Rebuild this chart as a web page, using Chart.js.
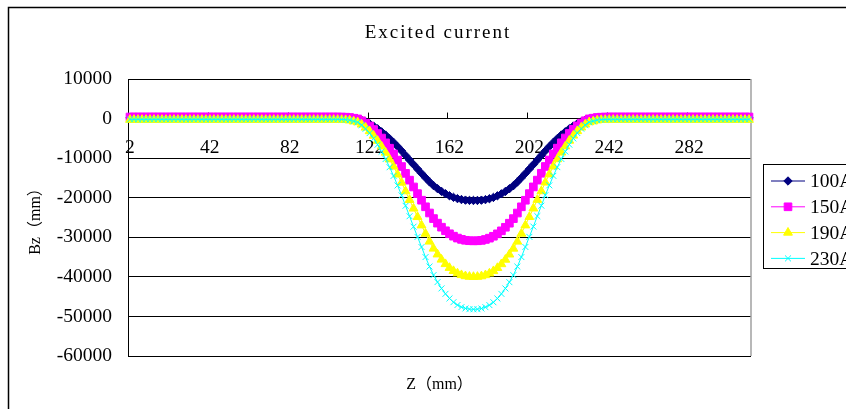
<!DOCTYPE html>
<html>
<head>
<meta charset="utf-8">
<script src="https://cdn.jsdelivr.net/npm/chart.js"></script>
<style>
  html, body { margin: 0; padding: 0; background: #fff; overflow: hidden; }
  #wrap { width: 874px; height: 409px; }
</style>
</head>
<body>
<div id="wrap"><canvas id="chart" width="874" height="409"></canvas></div>
<script>
// z positions (mm), one point every 2 mm
const zLabels = [
  2, 4, 6, 8, 10, 12, 14, 16, 18, 20, 22, 24, 26, 28, 30, 32, 34, 36, 38, 40,
  42, 44, 46, 48, 50, 52, 54, 56, 58, 60, 62, 64, 66, 68, 70, 72, 74, 76, 78, 80,
  82, 84, 86, 88, 90, 92, 94, 96, 98, 100, 102, 104, 106, 108, 110, 112, 114, 116, 118, 120,
  122, 124, 126, 128, 130, 132, 134, 136, 138, 140, 142, 144, 146, 148, 150, 152, 154, 156, 158, 160,
  162, 164, 166, 168, 170, 172, 174, 176, 178, 180, 182, 184, 186, 188, 190, 192, 194, 196, 198, 200,
  202, 204, 206, 208, 210, 212, 214, 216, 218, 220, 222, 224, 226, 228, 230, 232, 234, 236, 238, 240,
  242, 244, 246, 248, 250, 252, 254, 256, 258, 260, 262, 264, 266, 268, 270, 272, 274, 276, 278, 280,
  282, 284, 286, 288, 290, 292, 294, 296, 298, 300, 302, 304, 306, 308, 310, 312
];

const bz100 = [
  200, 200, 200, 200, 200, 200, 200, 200, 200, 200, 200, 200, 200, 200, 200, 200, 200, 200, 200, 200,
  200, 200, 200, 200, 200, 200, 200, 200, 200, 200, 200, 200, 200, 200, 200, 200, 200, 200, 200, 200,
  200, 200, 200, 200, 200, 200, 200, 200, 200, 200, 200, 200, 200, 190, 170, 120, -10, -120, -430, -830,
  -1310, -1910, -2590, -3350, -4170, -5070, -6030, -7070, -8160, -9310, -10460, -11610, -12740, -13850, -14950, -16000, -16940, -17710, -18400, -19000,
  -19500, -19910, -20230, -20460, -20610, -20680, -20700, -20690, -20620, -20480, -20250, -19930, -19520, -19020, -18420, -17730, -16960, -16020, -14970, -13860,
  -12750, -11620, -10470, -9320, -8170, -7070, -6030, -5060, -4160, -3340, -2580, -1900, -1300, -820, -420, -110, 0, 120, 170, 190,
  200, 200, 200, 200, 200, 200, 200, 200, 200, 200, 200, 200, 200, 200, 200, 200, 200, 200, 200, 200,
  200, 200, 200, 200, 200, 200, 200, 200, 200, 200, 200, 200, 200, 200, 200, 200
];

const bz150 = [
  400, 400, 400, 400, 400, 400, 400, 400, 400, 400, 400, 400, 400, 400, 400, 400, 400, 400, 400, 400,
  400, 400, 400, 400, 400, 400, 400, 400, 400, 400, 400, 400, 400, 400, 400, 400, 400, 400, 400, 400,
  400, 400, 400, 400, 400, 400, 400, 400, 400, 400, 400, 400, 400, 380, 350, 280, 90, -90, -550, -1150,
  -1870, -2760, -3780, -4920, -6140, -7490, -8930, -10490, -12120, -13840, -15560, -17280, -18970, -20630, -22290, -23860, -25270, -26420, -27450, -28350,
  -29110, -29720, -30200, -30530, -30760, -30870, -30900, -30880, -30780, -30550, -30220, -29740, -29130, -28370, -27470, -26440, -25280, -23870, -22300, -20640,
  -18970, -17270, -15550, -13820, -12100, -10470, -8910, -7470, -6120, -4900, -3760, -2740, -1850, -1130, -540, -80, 100, 280, 350, 380,
  400, 400, 400, 400, 400, 400, 400, 400, 400, 400, 400, 400, 400, 400, 400, 400, 400, 400, 400, 400,
  400, 400, 400, 400, 400, 400, 400, 400, 400, 400, 400, 400, 400, 400, 400, 400
];

const bz190 = [
  -300, -300, -300, -300, -300, -300, -300, -300, -300, -300, -300, -300, -300, -300, -300, -300, -300, -300, -300, -300,
  -300, -300, -300, -300, -300, -300, -300, -300, -300, -300, -300, -300, -300, -300, -300, -300, -300, -300, -300, -300,
  -300, -300, -300, -300, -300, -300, -300, -300, -300, -300, -300, -300, -300, -320, -360, -460, -700, -920, -1500, -2270,
  -3170, -4310, -5600, -7050, -8600, -10300, -12130, -14120, -16180, -18360, -20550, -22730, -24870, -26980, -29080, -31070, -32850, -34320, -35630, -36760,
  -37720, -38510, -39110, -39540, -39820, -39960, -40000, -39970, -39840, -39560, -39130, -38530, -37740, -36780, -35650, -34340, -32860, -31080, -29080, -26980,
  -24860, -22710, -20530, -18340, -16150, -14090, -12100, -10270, -8570, -7020, -5570, -4290, -3150, -2250, -1490, -910, -690, -450, -350, -320,
  -300, -300, -300, -300, -300, -300, -300, -300, -300, -300, -300, -300, -300, -300, -300, -300, -300, -300, -300, -300,
  -300, -300, -300, -300, -300, -300, -300, -300, -300, -300, -300, -300, -300, -300, -300, -300
];

const bz230 = [
  -200, -200, -200, -200, -200, -200, -200, -200, -200, -200, -200, -200, -200, -200, -200, -200, -200, -200, -200, -200,
  -200, -200, -200, -200, -200, -200, -200, -200, -200, -200, -200, -200, -200, -200, -200, -200, -200, -200, -200, -200,
  -200, -200, -200, -200, -200, -200, -200, -200, -200, -200, -200, -200, -200, -220, -270, -390, -680, -940, -1650, -2580,
  -3680, -5050, -6610, -8360, -10230, -12300, -14500, -16900, -19400, -22040, -24680, -27320, -29910, -32460, -35000, -37400, -39560, -41330, -42920, -44290,
  -45450, -46400, -47120, -47640, -47980, -48160, -48200, -48170, -48000, -47660, -47140, -46420, -45470, -44300, -42930, -41340, -39570, -37400, -35000, -32450,
  -29890, -27290, -24650, -22010, -19370, -16870, -14470, -12270, -10200, -8330, -6580, -5020, -3650, -2560, -1630, -930, -670, -380, -260, -220,
  -200, -200, -200, -200, -200, -200, -200, -200, -200, -200, -200, -200, -200, -200, -200, -200, -200, -200, -200, -200,
  -200, -200, -200, -200, -200, -200, -200, -200, -200, -200, -200, -200, -200, -200, -200, -200
];

const yTicks = [10000, 0, -10000, -20000, -30000, -40000, -50000, -60000];

const FONT = "'Liberation Serif', 'Noto Sans CJK SC', serif";
Chart.defaults.font.family = FONT;
Chart.defaults.font.size = 19.5;
Chart.defaults.color = '#000';

// white page, outer chart frame and the chart title
const frame = {
  id: 'frame',
  beforeDraw(chart) {
    const ctx = chart.ctx;
    ctx.save();
    ctx.fillStyle = '#fff';
    ctx.fillRect(0, 0, chart.width, chart.height);
    ctx.strokeStyle = '#000';
    ctx.lineWidth = 1.5;
    ctx.strokeRect(8.5, 7.5, 1000, 1000);
    ctx.fillStyle = '#000';
    ctx.font = '19px ' + FONT;
    ctx.textAlign = 'center';
    ctx.textBaseline = 'middle';
    if ('letterSpacing' in ctx) ctx.letterSpacing = '2px';
    ctx.fillText('Excited current', 438, 33);
    ctx.restore();
  }
};

// tick marks pointing up from the zero line, plus grey right edge
const axisBits = {
  id: 'axisBits',
  beforeDatasetsDraw(chart) {
    const ctx = chart.ctx;
    const x = chart.scales.x;
    const y = chart.scales.y;
    const y0 = y.getPixelForValue(0);
    const half = (x.getPixelForValue(1) - x.getPixelForValue(0)) / 2;
    ctx.save();
    ctx.strokeStyle = '#000';
    ctx.lineWidth = 1;
    for (let i = 0; i < zLabels.length; i += 20) {
      const px = Math.round(x.getPixelForValue(i) - half) + 0.5;
      ctx.beginPath();
      ctx.moveTo(px, y0);
      ctx.lineTo(px, y0 - 6);
      ctx.stroke();
    }
    ctx.strokeStyle = '#a0a0a0';
    ctx.lineWidth = 1.5;
    const ca = chart.chartArea;
    ctx.beginPath();
    ctx.moveTo(ca.right, ca.top);
    ctx.lineTo(ca.right, ca.bottom);
    ctx.stroke();
    ctx.restore();
  }
};

// boxed legend on the right, like the spreadsheet one
const legendBox = {
  id: 'legendBox',
  afterDraw(chart) {
    const ctx = chart.ctx;
    ctx.save();
    ctx.fillStyle = '#fff';
    ctx.fillRect(763.5, 164.5, 200, 104);
    ctx.strokeStyle = '#000';
    ctx.lineWidth = 1;
    ctx.strokeRect(763.5, 164.5, 200, 104);
    chart.data.datasets.forEach((ds, i) => {
      const yy = 181 + i * 25.8;
      ctx.strokeStyle = ds.borderColor;
      ctx.lineWidth = 1;
      ctx.beginPath();
      ctx.moveTo(771, yy);
      ctx.lineTo(805, yy);
      ctx.stroke();
      if (Chart.helpers && Chart.helpers.drawPoint) {
        ctx.fillStyle = ds.pointBackgroundColor;
        ctx.strokeStyle = ds.pointBorderColor;
        ctx.lineWidth = 1;
        Chart.helpers.drawPoint(ctx, {
          pointStyle: ds.pointStyle, radius: ds.pointRadius, rotation: 0, borderWidth: 1
        }, 788, yy);
      }
      ctx.fillStyle = '#000';
      ctx.font = '19.5px ' + FONT;
      ctx.textBaseline = 'middle';
      ctx.textAlign = 'left';
      ctx.fillText(ds.label, 810, yy + 1);
    });
    ctx.restore();
  }
};

function series(label, data, color, style, r, order) {
  return {
    label: label,
    data: data,
    borderColor: color,
    backgroundColor: color,
    borderWidth: 1,
    pointStyle: style,
    pointRadius: r,
    pointBackgroundColor: color,
    pointBorderColor: color,
    pointBorderWidth: 1,
    tension: 0,
    order: order
  };
}

new Chart(document.getElementById('chart').getContext('2d'), {
  type: 'line',
  data: {
    labels: zLabels,
    datasets: [
      series('100A', bz100, '#000080', 'rectRot', 4.2, 4),
      series('150A', bz150, '#ff00ff', 'rect', 5.4, 3),
      series('190A', bz190, '#ffff00', 'triangle', 5.1, 2),
      series('230A', bz230, '#00ffff', 'crossRot', 4.2, 1)
    ]
  },
  options: {
    responsive: false,
    animation: false,
    events: [],
    layout: { padding: { left: 0, right: 123, top: 79, bottom: 0 } },
    plugins: {
      legend: { display: false },
      tooltip: { enabled: false },
      title: { display: false }
    },
    scales: {
      x: {
        type: 'category',
        position: { y: 0 },
        offset: true,
        grid: { display: true, drawOnChartArea: false, drawTicks: false },
        border: { display: true, color: '#000', width: 1 },
        ticks: {
          autoSkip: false,
          maxRotation: 0,
          padding: 18,
          color: '#000',
          callback: (v, i) => (i % 20 === 0 ? String(zLabels[i]) : '')
        }
      },
      x2: {
        type: 'category',
        position: 'bottom',
        offset: true,
        grid: { display: false, drawTicks: false },
        border: { display: false },
        ticks: { display: false },
        title: {
          display: true,
          text: 'Z（mm）',
          color: '#000',
          font: { size: 16 },
          padding: { top: 0, bottom: 15 }
        },
        afterFit(s) { s.height = 53; }
      },
      y: {
        min: -60000,
        max: 10000,
        afterFit(s) { s.width = 128; },
        afterBuildTicks(s) { s.ticks = yTicks.map(v => ({ value: v })); },
        ticks: { padding: 16, color: '#000', callback: v => String(v) },
        grid: { color: '#000', lineWidth: 1, drawTicks: false },
        border: { color: '#000', width: 1 },
        title: {
          display: true,
          text: 'Bz（mm）',
          color: '#000',
          font: { size: 16 },
          padding: { top: 26, bottom: 0 }
        }
      }
    }
  },
  plugins: [frame, axisBits, legendBox]
});
</script>
</body>
</html>
